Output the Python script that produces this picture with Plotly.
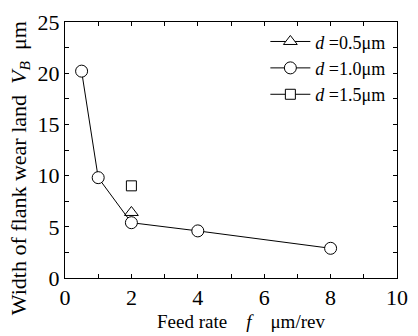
import plotly.graph_objects as go

f_10 = [0.5, 1, 2, 4, 8]
vb_10 = [20.2, 9.8, 5.4, 4.6, 2.9]
f_05 = [2]
vb_05 = [6.4]
f_15 = [2]
vb_15 = [9.0]

FONT = "'Liberation Serif', 'Times New Roman', Times, serif"

fig = go.Figure()
mk = dict(size=12, color="white", line=dict(color="black", width=1))
fig.add_trace(go.Scatter(x=f_05, y=vb_05, mode="lines+markers", name="<i>d</i> =0.5μm",
                         marker=dict(symbol="triangle-up", **mk), line=dict(color="black", width=1)))
fig.add_trace(go.Scatter(x=f_10, y=vb_10, mode="lines+markers", name="<i>d</i> =1.0μm",
                         marker=dict(symbol="circle", **mk), line=dict(color="black", width=1)))
fig.add_trace(go.Scatter(x=f_15, y=vb_15, mode="lines+markers", name="<i>d</i> =1.5μm",
                         marker=dict(symbol="square", size=10, color="white", line=dict(color="black", width=1)),
                         line=dict(color="black", width=1)))

axis_common = dict(showline=True, linecolor="black", linewidth=1, mirror="allticks",
                   ticks="inside", ticklen=4, tickcolor="black", showgrid=False, zeroline=False,
                   tickfont=dict(family=FONT, size=22, color="black"))
fig.update_xaxes(range=[0, 10], tickvals=[0, 2, 4, 6, 8, 10],
                 minor=dict(tickvals=[1, 3, 5, 7, 9], ticks="inside", ticklen=4, tickcolor="black"),
                 **axis_common)
fig.update_yaxes(range=[0, 25], tickvals=[0, 5, 10, 15, 20, 25],
                 minor=dict(tickvals=[2.5, 7.5, 12.5, 17.5, 22.5], ticks="inside", ticklen=4, tickcolor="black"),
                 **axis_common)
fig.add_annotation(text="Width of flank wear land&nbsp;&nbsp;<i>V<sub>B</sub></i>&nbsp;&nbsp;μm", textangle=-90,
                   xref="paper", yref="paper", x=-0.137, y=0.427, xanchor="center", yanchor="middle",
                   showarrow=False, font=dict(family=FONT, size=22, color="black"))
fig.add_annotation(text="Feed rate&nbsp;&nbsp;&nbsp;&nbsp;<i>f</i>&nbsp;&nbsp;&nbsp;&nbsp;μm/rev",
                   xref="paper", yref="paper", x=0.53, y=-0.169, xanchor="center", yanchor="middle",
                   showarrow=False, font=dict(family=FONT, size=19, color="black"))
fig.update_layout(width=418, height=336, margin=dict(l=65, r=10, t=18, b=58),
                  paper_bgcolor="white", plot_bgcolor="white",
                  font=dict(family=FONT, color="black"),
                  legend=dict(x=0.98, y=0.995, xanchor="right", yanchor="top", bgcolor="rgba(0,0,0,0)",
                              font=dict(family=FONT, size=18, color="black"), itemwidth=40,
                              tracegroupgap=0))
fig.write_html("out.html")
